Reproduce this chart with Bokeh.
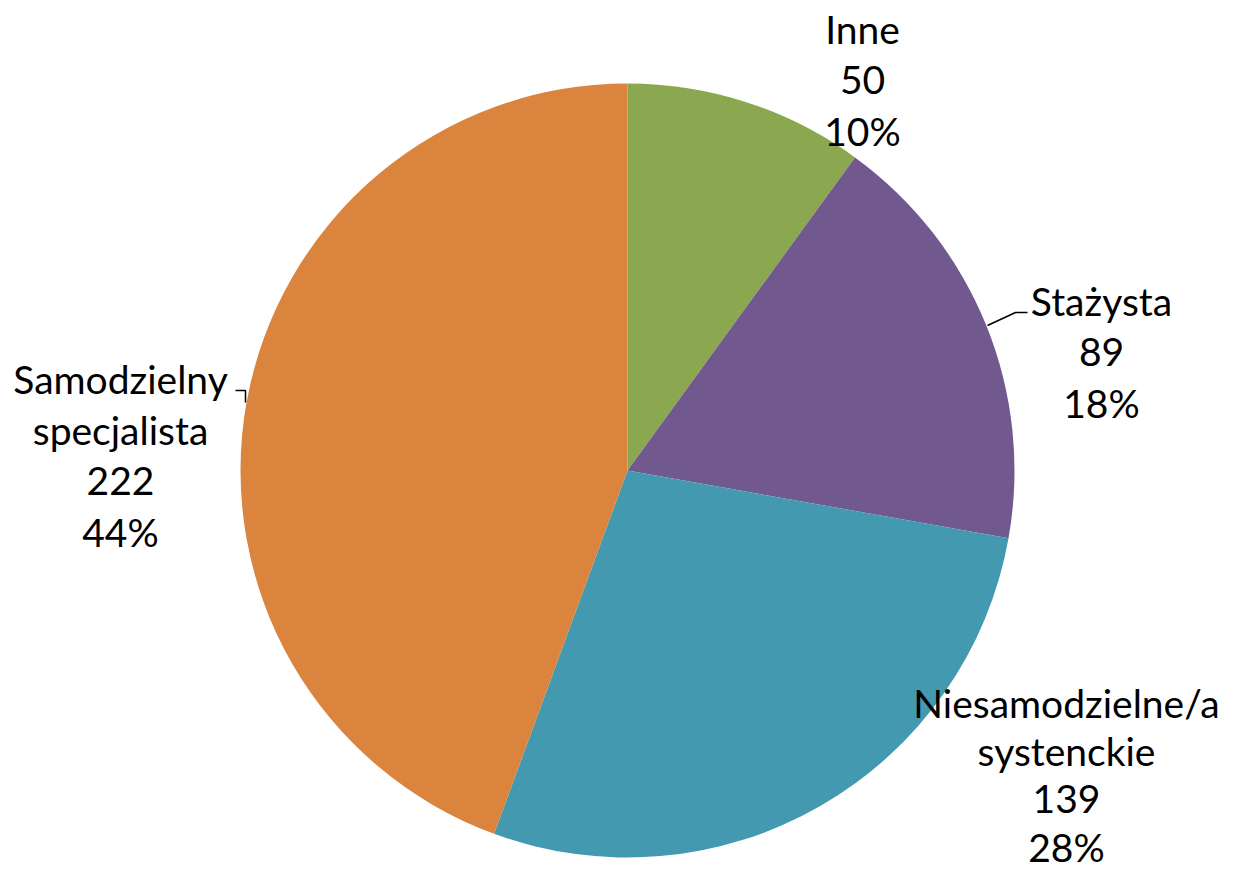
import math
from bokeh.plotting import figure
from bokeh.models import Range1d, ColumnDataSource
from bokeh.core.properties import value
from bokeh.embed import file_html
from bokeh.resources import INLINE

# ---- data ----
names = ["Inne", "Stażysta", "Niesamodzielne/a\nsystenckie", "Samodzielny\nspecjalista"]
counts = [50, 89, 139, 222]
colors = ["#8BA74F", "#71598F", "#4399B0", "#DB843D"]

# ---- layout (picture pixel coordinates) ----
W, H = 1226, 872
CX, CY, R = 627, 470, 387
label_pos = [(862, 28), (1101, 300), (1066, 702), (120, 378)]
line_h = [51, 51, 48, 51]
FONT = "Lato"
FSIZE = "39px"

def py(y):  # picture y -> data y
    return H - y

total = sum(counts)
starts, ends = [], []
cum = 0.0
for c in counts:
    a0 = math.pi / 2 - 2 * math.pi * cum / total
    cum += c
    a1 = math.pi / 2 - 2 * math.pi * cum / total
    starts.append(a0)
    ends.append(a1)

p = figure(width=W, height=H, output_backend="svg", toolbar_location=None,
           x_range=Range1d(0, W), y_range=Range1d(0, H),
           min_border=0)
p.axis.visible = False
p.grid.visible = False
p.outline_line_color = None
p.background_fill_color = "white"

src = ColumnDataSource(dict(x=[CX] * 4, y=[py(CY)] * 4, start=starts, end=ends, color=colors))
p.wedge(x="x", y="y", radius=R, start_angle="start", end_angle="end",
        direction="clock", fill_color="color", line_color=None, source=src)

# labels
tx, ty, tt = [], [], []
for name, c, (lx, ly), lh in zip(names, counts, label_pos, line_h):
    lines = name.split("\n") + [str(c), f"{round(100 * c / total)}%"]
    for i, ln in enumerate(lines):
        tx.append(lx)
        ty.append(py(ly + i * lh))
        tt.append(ln)
p.text(x=tx, y=ty, text=tt, text_align="center", text_baseline="middle",
       text_font=value(FONT), text_font_size=FSIZE, text_color="black")

# leader lines
p.line(x=[987, 1015, 1027], y=[py(325), py(312), py(312)], line_color="black", line_width=1.5)
p.line(x=[235, 245, 245], y=[py(390), py(390), py(402)], line_color="black", line_width=1.5)

open("out.html", "w").write(file_html(p, INLINE))
